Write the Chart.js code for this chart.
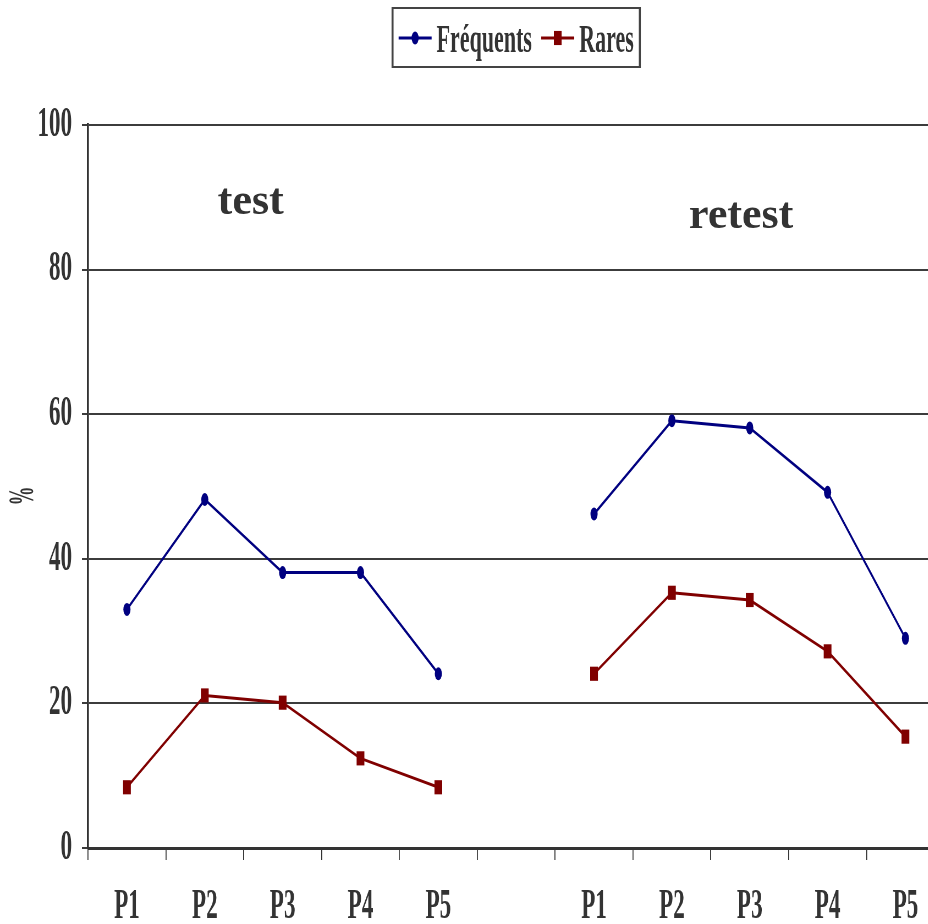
<!DOCTYPE html>
<html>
<head>
<meta charset="utf-8">
<script src="https://cdn.jsdelivr.net/npm/chart.js@4/dist/chart.umd.min.js"></script>
<style>
  html, body { margin: 0; padding: 0; background: #fff; overflow: hidden; }
  #wrap { position: relative; width: 928px; height: 924px; overflow: hidden; background: #fff; }
  #c { position: absolute; left: 0; top: 0; transform: scaleX(0.55); transform-origin: 0 0; }
</style>
</head>
<body>
<div id="wrap"><canvas id="c" width="1727" height="924"></canvas></div>
<script>
// ---- data ----
const categories = ['P1', 'P2', 'P3', 'P4', 'P5', '', 'P1', 'P2', 'P3', 'P4', 'P5'];
const seriesNames = ['Fréquents', 'Rares'];
const frequentsTest = [33, 48.2, 38.1, 38.1, 24.1];
const frequentsRetest = [46.2, 59.1, 58.1, 49.2, 29];
const raresTest = [8.4, 21.1, 20.1, 12.4, 8.4];
const raresRetest = [24.1, 35.3, 34.3, 27.2, 15.4];
const phaseLabels = ['test', 'retest'];
const yTickValues = [0, 20, 40, 60, 80, 100];
const yAxisTitle = '%';

// ---- rendering ----
const S = 0.55; // horizontal compression applied by CSS
const FONT = '"Liberation Serif", "Times New Roman", serif';
const TEXT = '#333333';
const BLUE = '#000080';
const RED = '#800000';

const join = (a, b) => [...a, null, ...b];

const phasePlugin = {
  id: 'phaseLabels',
  afterDraw(chart, args, opts) {
    const { ctx, scales: { x, y } } = chart;
    ctx.save();
    ctx.scale(1 / S, 1);
    ctx.font = 'bold 44px ' + FONT;
    ctx.fillStyle = TEXT;
    ctx.textAlign = 'center';
    ctx.textBaseline = 'alphabetic';
    opts.items.forEach(p => {
      ctx.fillText(p.text, x.getPixelForValue(p.x) * S, y.getPixelForValue(p.y));
    });
    ctx.restore();
  }
};

const yTitlePlugin = {
  id: 'yTitle',
  afterDraw(chart, args, opts) {
    const { ctx } = chart;
    ctx.save();
    ctx.translate(opts.x / S, opts.y);
    ctx.scale(3.4, 1);
    ctx.rotate(-Math.PI / 2);
    ctx.font = 'bold 19px ' + FONT;
    ctx.fillStyle = TEXT;
    ctx.textAlign = 'center';
    ctx.textBaseline = 'middle';
    ctx.fillText(opts.text, 0, 0);
    ctx.restore();
  }
};

const legendPlugin = {
  id: 'boxLegend',
  afterDraw(chart, args, opts) {
    const { ctx, chartArea } = chart;
    const ds = chart.data.datasets;
    const padX = 11, iconW = 60, gap1 = 9, gap2 = 17;
    ctx.save();
    ctx.font = 'bold 40px ' + FONT;
    const tw = ds.map(d => ctx.measureText(d.label).width);
    const total = 2 * padX + ds.length * (iconW + gap1) + tw.reduce((a, b) => a + b, 0) + gap2 * (ds.length - 1);
    const left = (chartArea.left + chartArea.right) / 2 - total / 2;
    ctx.save();
    ctx.scale(1 / S, 1);
    ctx.strokeStyle = '#444';
    ctx.lineWidth = 2;
    ctx.strokeRect(left * S, opts.top, total * S, opts.height);
    ctx.restore();
    let cx = left + padX;
    ds.forEach((d, i) => {
      ctx.strokeStyle = d.borderColor;
      ctx.lineWidth = 3;
      ctx.beginPath();
      ctx.moveTo(cx, opts.lineY);
      ctx.lineTo(cx + iconW, opts.lineY);
      ctx.stroke();
      ctx.fillStyle = d.pointBackgroundColor;
      ctx.strokeStyle = d.pointBorderColor;
      Chart.helpers.drawPoint(ctx, { pointStyle: d.pointStyle, radius: d.pointRadius, rotation: 0, borderWidth: 0 }, cx + iconW / 2, opts.lineY);
      cx += iconW + gap1;
      ctx.fillStyle = TEXT;
      ctx.textAlign = 'left';
      ctx.textBaseline = 'alphabetic';
      ctx.fillText(d.label, cx, opts.baseline);
      cx += tw[i] + gap2;
    });
    ctx.restore();
  }
};

new Chart(document.getElementById('c'), {
  type: 'line',
  data: {
    labels: categories,
    datasets: [
      {
        label: seriesNames[0],
        data: join(frequentsTest, frequentsRetest),
        borderColor: BLUE, backgroundColor: BLUE,
        pointBackgroundColor: BLUE, pointBorderColor: BLUE,
        borderWidth: 3, pointStyle: 'circle', pointRadius: 6.5, pointBorderWidth: 0,
        spanGaps: false, tension: 0
      },
      {
        label: seriesNames[1],
        data: join(raresTest, raresRetest),
        borderColor: RED, backgroundColor: RED,
        pointBackgroundColor: RED, pointBorderColor: RED,
        borderWidth: 3, pointStyle: 'rect', pointRadius: 10, pointBorderWidth: 0,
        spanGaps: false, tension: 0
      }
    ]
  },
  options: {
    responsive: false,
    devicePixelRatio: 1,
    animation: false,
    events: [],
    layout: { padding: { top: 125, right: 4, bottom: 0, left: 0 } },
    plugins: {
      legend: { display: false },
      tooltip: { enabled: false },
      phaseLabels: { items: [ { text: phaseLabels[0], x: 1.59, y: 87.7 }, { text: phaseLabels[1], x: 7.89, y: 85.8 } ] },
      yTitle: { text: yAxisTitle, x: 24, y: 496 },
      boxLegend: { top: 8, height: 59, lineY: 38, baseline: 52 }
    },
    scales: {
      x: {
        type: 'category',
        offset: true,
        afterFit(scale) { scale.height = 76; },
        grid: { display: true, drawOnChartArea: false, drawTicks: true, tickLength: 12, lineWidth: 1.8, color: '#333', offset: true },
        border: { display: true, color: '#333', width: 3 },
        ticks: { color: TEXT, font: { family: FONT, size: 42, weight: 'bold' }, padding: 22, maxRotation: 0, autoSkip: false }
      },
      y: {
        min: 0, max: 100,
        afterFit(scale) { scale.width = 160; },
        afterBuildTicks(scale) { scale.ticks = yTickValues.map(v => ({ value: v })); },
        grid: { display: true, drawOnChartArea: true, drawTicks: true, tickLength: 11, lineWidth: 2, color: '#3c3c3c' },
        border: { display: true, color: '#333', width: 3.6 },
        ticks: { color: TEXT, font: { family: FONT, size: 42, weight: 'bold' }, padding: 18 }
      }
    }
  },
  plugins: [phasePlugin, yTitlePlugin, legendPlugin]
});
</script>
</body>
</html>
